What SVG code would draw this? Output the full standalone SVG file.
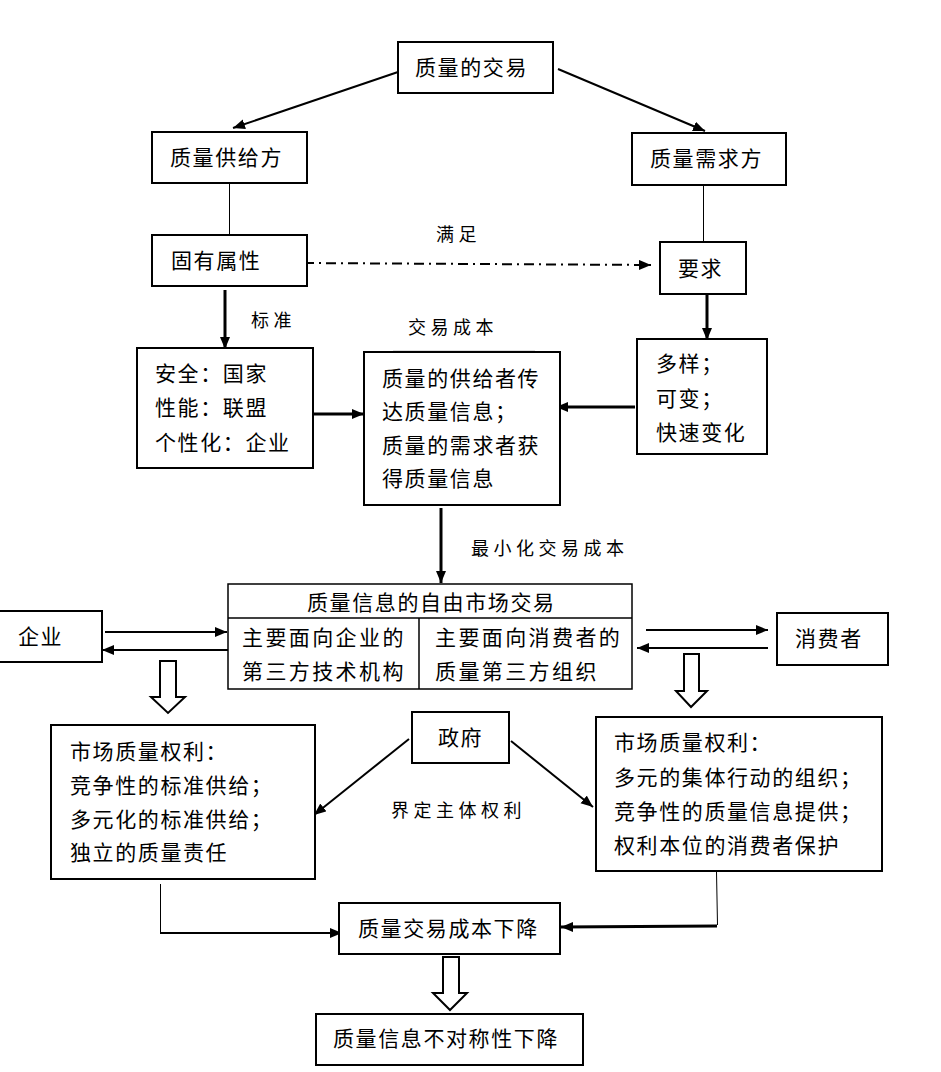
<svg xmlns="http://www.w3.org/2000/svg" width="941" height="1072" viewBox="0 0 941 1072">
<style>
.box{fill:#fff;stroke:#000;stroke-width:2}
.t{font-family:"Noto Sans CJK SC","Liberation Sans",sans-serif;font-size:21px;letter-spacing:1.6px;fill:#000}
.m{letter-spacing:2.4px}
.lb{font-family:"Noto Sans CJK SC","Liberation Sans",sans-serif;font-size:18px;letter-spacing:4.5px;fill:#000}
.a{fill:none;stroke:#000;stroke-width:2;marker-end:url(#ah)}
.a3{fill:none;stroke:#000;stroke-width:3;marker-end:url(#ah)}
.ln{fill:none;stroke:#000;stroke-width:1}
.hol{fill:#fff;stroke:#000;stroke-width:2}
</style>
<defs>
<marker id="ah" markerUnits="userSpaceOnUse" markerWidth="13" markerHeight="11" refX="12" refY="5" orient="auto">
<path d="M0,0 L12,5 L0,10 z" fill="#000"/>
</marker>
</defs>
<rect width="941" height="1072" fill="#fff"/>

<g id="connectors">
<line class="a" x1="398" y1="72" x2="233" y2="128"/>
<line class="a" x1="558" y1="69" x2="705" y2="131"/>
<line class="ln" x1="229.5" y1="183" x2="229.5" y2="235"/>
<line class="ln" x1="703.5" y1="185" x2="703.5" y2="242"/>
<line class="a" x1="304" y1="263" x2="651" y2="265" stroke-dasharray="10,5,2,5"/>
<line class="a3" x1="225" y1="290" x2="225" y2="349"/>
<line class="a3" x1="707" y1="294" x2="707" y2="340"/>
<line class="a3" x1="313" y1="414" x2="364" y2="414"/>
<line class="a3" x1="635" y1="407" x2="556" y2="407"/>
<line x1="393" y1="351" x2="535" y2="351" stroke="#bbb" stroke-width="1"/>
<line class="a3" x1="441" y1="508" x2="441" y2="583"/>
<line class="a" x1="105" y1="632" x2="227" y2="632"/>
<line class="a" x1="228" y1="650" x2="102" y2="650"/>
<line class="a" x1="646" y1="630" x2="768" y2="630"/>
<line class="a" x1="768" y1="648" x2="637" y2="648"/>
<polygon class="hol" points="160,661 176,661 176,697 185,697 168,713 151,697 160,697"/>
<polygon class="hol" points="684,654 699,654 699,691 707,691 691,707 676,691 684,691"/>
<line class="a" x1="409" y1="739" x2="314" y2="815" stroke-width="1.6"/>
<line class="a" x1="511" y1="741" x2="593" y2="807" stroke-width="1.6"/>
<line class="ln" x1="160.5" y1="884" x2="160.5" y2="933"/>
<line class="a" x1="160" y1="933" x2="342" y2="933"/>
<line class="ln" x1="716.5" y1="872" x2="717.5" y2="925"/>
<line class="a3" x1="717" y1="926" x2="561" y2="927"/>
<polygon class="hol" points="443,957 459,957 459,993 467,993 450,1010 433,993 443,993"/>
</g>

<g id="n-trade"><rect class="box" x="398" y="42" width="155" height="51"/><text class="t" x="415" y="75">质量的交易</text></g>
<g id="n-supply"><rect class="box" x="152" y="132" width="155" height="51"/><text class="t" x="170" y="165">质量供给方</text></g>
<g id="n-demand"><rect class="box" x="632" y="133" width="154" height="52"/><text class="t" x="650" y="166">质量需求方</text></g>
<g id="n-attr"><rect class="box" x="152" y="235" width="155" height="51"/><text class="t" x="171" y="268">固有属性</text></g>
<g id="n-req"><rect class="box" x="660" y="242" width="86" height="52"/><text class="t" x="678" y="276">要求</text></g>
<g id="n-std"><rect class="box" x="137" y="348" width="176" height="120"/>
<text class="t" x="155" y="381">安全：国家</text>
<text class="t" x="155" y="415">性能：联盟</text>
<text class="t" x="155" y="450">个性化：企业</text></g>
<g id="n-info"><rect class="box" x="364" y="352" width="196" height="153"/>
<text class="t" x="382" y="386">质量的供给者传</text>
<text class="t" x="382" y="419">达质量信息；</text>
<text class="t" x="382" y="453">质量的需求者获</text>
<text class="t" x="382" y="486">得质量信息</text></g>
<g id="n-var"><rect class="box" x="637" y="339" width="130" height="115"/>
<text class="t" x="656" y="371">多样；</text>
<text class="t" x="656" y="406">可变；</text>
<text class="t" x="656" y="440">快速变化</text></g>
<g id="n-market"><rect x="228" y="584" width="404" height="105" fill="#fff" stroke="#000" stroke-width="1.5"/>
<line x1="228" y1="618" x2="632" y2="618" stroke="#000" stroke-width="1.5"/>
<line x1="419" y1="618" x2="419" y2="689" stroke="#000" stroke-width="1.5"/>
<text class="t" x="307" y="610">质量信息的自由市场交易</text>
<text class="t m" x="242" y="645">主要面向企业的</text>
<text class="t m" x="242" y="679">第三方技术机构</text>
<text class="t m" x="435" y="645">主要面向消费者的</text>
<text class="t m" x="435" y="679">质量第三方组织</text></g>
<g id="n-firm"><rect class="box" x="-2" y="611" width="104" height="51"/><text class="t" x="18" y="644">企业</text></g>
<g id="n-consumer"><rect class="box" x="777" y="613" width="111" height="52"/><text class="t" x="795" y="646">消费者</text></g>
<g id="n-gov"><rect class="box" x="412" y="712" width="97" height="51"/><text class="t" x="438" y="745">政府</text></g>
<g id="n-left"><rect class="box" x="51" y="725" width="264" height="154"/>
<text class="t" x="70" y="759">市场质量权利：</text>
<text class="t" x="70" y="793">竞争性的标准供给；</text>
<text class="t" x="70" y="827">多元化的标准供给；</text>
<text class="t" x="70" y="860">独立的质量责任</text></g>
<g id="n-right"><rect class="box" x="596" y="717" width="286" height="154"/>
<text class="t" x="614" y="750">市场质量权利：</text>
<text class="t" x="614" y="785">多元的集体行动的组织；</text>
<text class="t" x="614" y="819">竞争性的质量信息提供；</text>
<text class="t" x="614" y="853">权利本位的消费者保护</text></g>
<g id="n-cost"><rect class="box" x="339" y="903" width="221" height="51"/><text class="t" x="358" y="936">质量交易成本下降</text></g>
<g id="n-asym"><rect class="box" x="316" y="1014" width="267" height="51"/><text class="t" x="333" y="1046">质量信息不对称性下降</text></g>

<g id="labels">
<text class="lb" x="436" y="241">满足</text>
<text class="lb" x="251" y="327">标准</text>
<text class="lb" x="408" y="334">交易成本</text>
<text class="lb" x="471" y="555">最小化交易成本</text>
<text class="lb" x="391" y="817">界定主体权利</text>
</g>
</svg>
